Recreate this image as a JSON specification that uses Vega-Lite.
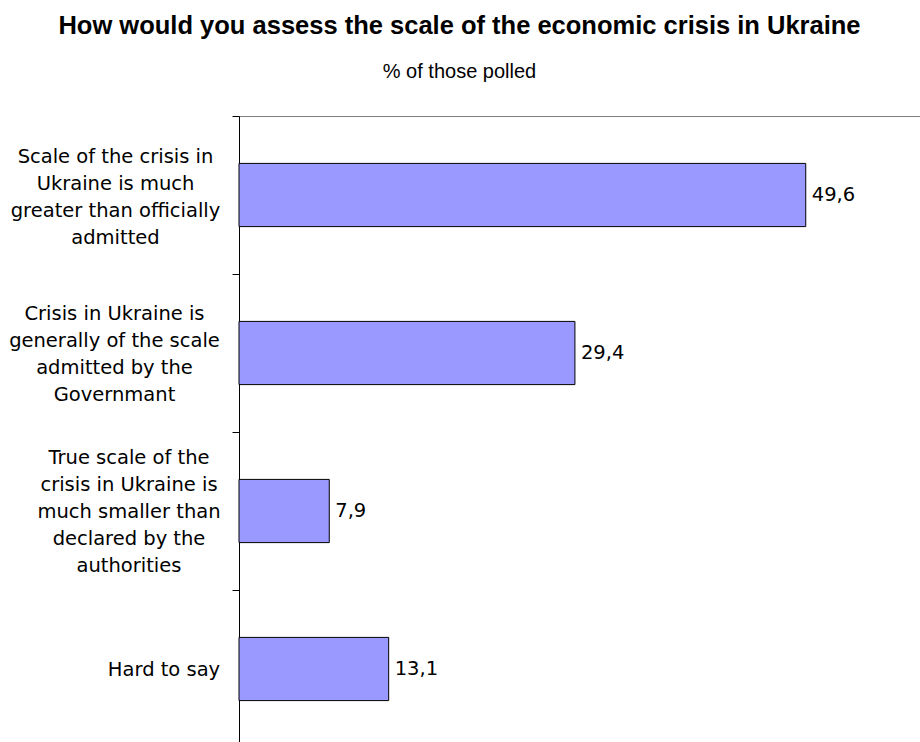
{
  "$schema": "https://vega.github.io/schema/vega-lite/v6.json",
  "width": 681,
  "height": 626,
  "autosize": "none",
  "padding": {"left": 239, "top": 116, "right": 0, "bottom": 0},
  "background": "white",
  "title": {
    "text": "How would you assess the scale of the economic crisis in Ukraine",
    "subtitle": "% of those polled",
    "font": "Liberation Sans",
    "fontSize": 25.5,
    "fontWeight": "bold",
    "color": "black",
    "subtitleFont": "Liberation Sans",
    "subtitleFontSize": 20,
    "subtitleColor": "black",
    "subtitlePadding": 23,
    "frame": "group",
    "anchor": "middle",
    "dx": -120,
    "offset": 24
  },
  "config": {
    "view": {"stroke": null},
    "locale": {"number": {"decimal": ",", "thousands": " ", "grouping": [3], "currency": ["", ""]}}
  },
  "data": {
    "values": [
      {"answer": "Scale of the crisis in|Ukraine is much|greater than officially|admitted", "pct": 49.6},
      {"answer": "Crisis in Ukraine is|generally of the scale|admitted by the|Governmant", "pct": 29.4},
      {"answer": "True scale of the|crisis in Ukraine is|much smaller than|declared by the|authorities", "pct": 7.9},
      {"answer": "Hard to say", "pct": 13.1}
    ]
  },
  "encoding": {
    "y": {
      "field": "answer",
      "type": "nominal",
      "sort": null,
      "scale": {"paddingInner": 0, "paddingOuter": 0, "range": [0, 632]},
      "axis": {
        "title": null,
        "grid": false,
        "domainColor": "black",
        "domainWidth": 1,
        "tickColor": "black",
        "tickSize": 7,
        "tickWidth": 1,
        "tickBand": "extent",
        "labelExpr": "datum.value ? split(datum.value, '|') : ''",
        "labelFont": "DejaVu Sans",
        "labelFontSize": 19.5,
        "labelColor": "black",
        "labelLineHeight": 27,
        "labelAlign": "center",
        "labelBaseline": "middle",
        "labelLimit": 0,
        "labelPadding": {"expr": "!datum.value ? 0 : indexof(datum.value, 'Hard') == 0 ? 68.5 : indexof(datum.value, 'True') == 0 ? 103.5 : indexof(datum.value, 'Crisis') == 0 ? 118 : 117"},
        "labelOffset": {"expr": "!datum.value ? 0 : indexof(datum.value, 'Hard') == 0 ? 0 : indexof(datum.value, 'True') == 0 ? -54 : indexof(datum.value, 'Crisis') == 0 ? -39.5 : -38.5"}
      }
    },
    "x": {
      "field": "pct",
      "type": "quantitative",
      "scale": {"domain": [0, 59.6], "nice": false, "zero": true},
      "axis": {
        "orient": "top",
        "title": null,
        "labels": false,
        "ticks": false,
        "grid": false,
        "domainColor": "#808080",
        "domainWidth": 1
      }
    }
  },
  "layer": [
    {"mark": {"type": "bar", "fill": "#9999FF", "stroke": "black", "strokeWidth": 1, "height": {"band": 0.4}}},
    {
      "mark": {"type": "text", "align": "left", "baseline": "middle", "dx": 6, "font": "DejaVu Sans", "fontSize": 19.5, "color": "black"},
      "encoding": {"text": {"field": "pct", "type": "quantitative", "format": ".1f"}}
    }
  ]
}
